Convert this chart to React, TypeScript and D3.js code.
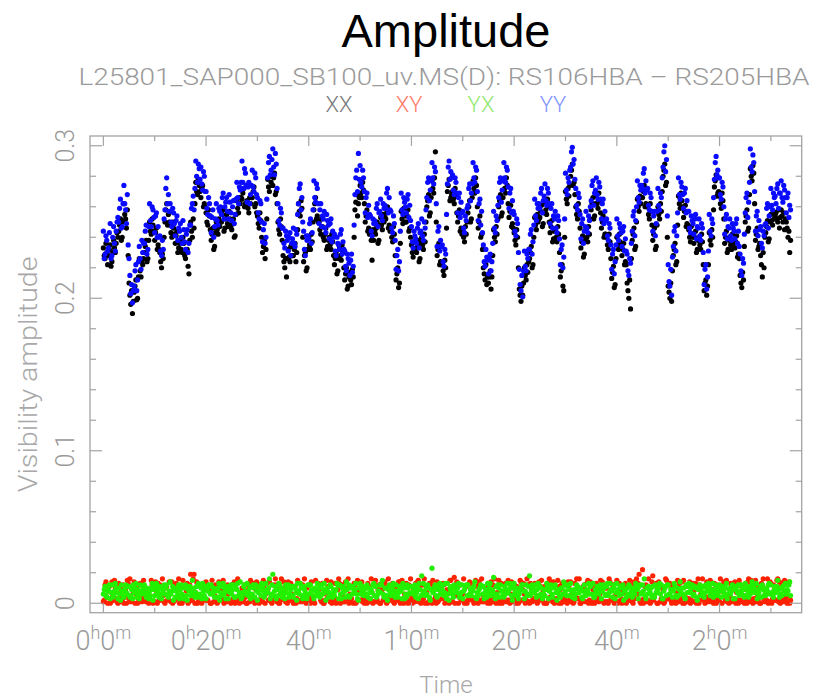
import React from "react";
import * as d3 from "d3";

const W = 822;
const H = 699;

// samples are taken every 10 s (6 per minute) from 0h0m
const SAMPLES_PER_MIN = 6;

const YY = [
.244,.226,.229,.241,.238,.231, .233,.243,.249,.226,.228,.240, .247,.236,.231,.244,.250,.253,
.250,.259,.265,.246,.247,.262, .274,.262,.258,.249,.268,.235, .226,.215,.203,.209,.197,.205,
.208,.218,.222,.205,.212,.224, .234,.226,.219,.238,.230,.236, .236,.244,.248,.229,.232,.247,
.262,.251,.247,.260,.258,.253, .243,.254,.256,.240,.247,.240, .241,.231,.228,.238,.232,.252,
.258,.272,.279,.262,.268,.257, .262,.250,.247,.259,.256,.249, .241,.251,.254,.238,.246,.244,
.249,.240,.236,.251,.245,.237, .232,.242,.245,.230,.236,.248, .248,.259,.262,.267,.258,.272,
.290,.280,.276,.288,.285,.278, .286,.275,.271,.283,.280,.270, .270,.259,.255,.266,.262,.254,
.243,.253,.258,.240,.247,.252, .262,.251,.248,.259,.257,.260, .255,.266,.269,.252,.260,.263,
.266,.257,.252,.268,.263,.256, .251,.260,.264,.249,.255,.265, .276,.266,.262,.273,.271,.276,
.290,.276,.272,.285,.282,.274, .263,.273,.276,.262,.268,.274, .284,.273,.270,.282,.279,.268,
.266,.256,.252,.264,.262,.250, .237,.245,.249,.236,.240,.265, .279,.289,.293,.281,.284,.291,
.298,.286,.281,.295,.288,.272, .262,.251,.248,.259,.256,.246, .246,.236,.233,.244,.241,.238,
.231,.240,.243,.228,.236,.239, .246,.236,.234,.245,.242,.255, .262,.272,.275,.258,.266,.250,
.244,.232,.228,.241,.238,.241, .239,.249,.252,.236,.243,.258, .277,.266,.263,.275,.272,.262,
.249,.258,.262,.247,.254,.252, .257,.246,.243,.255,.251,.248, .239,.249,.252,.237,.244,.240,
.242,.231,.228,.240,.236,.235, .232,.242,.245,.229,.237,.232, .231,.221,.218,.229,.226,.223,
.215,.225,.229,.217,.221,.248, .268,.279,.284,.270,.295,.278, .287,.276,.273,.284,.279,.270,
.256,.266,.269,.253,.261,.255, .254,.244,.241,.252,.249,.251, .249,.259,.262,.247,.256,.257,
.265,.254,.251,.262,.259,.261, .259,.269,.272,.256,.266,.258, .257,.246,.243,.254,.249,.238,
.219,.228,.232,.218,.224,.244, .269,.258,.255,.266,.263,.260, .256,.265,.268,.253,.261,.251,
.247,.237,.233,.244,.241,.239, .236,.246,.249,.233,.243,.244, .252,.241,.238,.250,.246,.258,
.266,.276,.279,.264,.271,.277, .289,.279,.275,.286,.283,.262, .234,.244,.247,.231,.238,.234,
.235,.224,.221,.232,.229,.255, .275,.286,.290,.278,.283,.279, .281,.271,.268,.279,.276,.269,
.256,.266,.269,.253,.263,.256, .257,.246,.243,.254,.251,.259, .261,.272,.275,.264,.269,.275,
.289,.279,.276,.286,.284,.270, .251,.262,.265,.248,.257,.243, .235,.224,.221,.232,.227,.225,
.216,.226,.229,.218,.224,.236, .257,.246,.243,.254,.251,.261, .266,.276,.279,.263,.271,.277,
.289,.279,.276,.286,.284,.273, .259,.269,.272,.256,.264,.257, .255,.244,.241,.252,.249,.230,
.219,.209,.205,.215,.201,.218, .231,.221,.218,.229,.226,.232, .232,.242,.245,.229,.237,.248,
.265,.254,.251,.262,.259,.262, .259,.269,.272,.256,.264,.267, .275,.264,.261,.272,.269,.262,
.249,.259,.262,.246,.254,.252, .257,.246,.243,.254,.251,.239, .222,.232,.235,.220,.227,.252,
.282,.271,.268,.279,.276,.284, .286,.296,.299,.288,.291,.278, .272,.261,.258,.269,.266,.255,
.239,.249,.252,.236,.244,.247, .257,.246,.243,.254,.251,.260, .264,.274,.277,.261,.269,.271,
.279,.268,.265,.276,.273,.265, .252,.262,.265,.249,.257,.251, .252,.241,.238,.249,.246,.235,
.219,.229,.232,.216,.224,.235, .252,.241,.238,.249,.246,.243, .234,.244,.247,.231,.239,.231,
.229,.218,.215,.226,.223,.236, .244,.254,.257,.241,.251,.260, .277,.266,.263,.274,.271,.274,
.272,.282,.285,.269,.277,.271, .272,.261,.258,.269,.266,.257, .244,.254,.257,.241,.249,.257,
.272,.261,.258,.269,.266,.279, .286,.296,.300,.283,.291,.254, .222,.211,.208,.219,.202,.227,
.234,.244,.247,.231,.241,.256, .279,.268,.265,.276,.273,.268, .259,.269,.272,.256,.264,.257,
.257,.246,.243,.254,.251,.249, .242,.252,.255,.239,.247,.246, .252,.241,.238,.249,.246,.230,
.209,.219,.222,.206,.214,.231, .255,.244,.241,.252,.249,.266, .278,.289,.293,.281,.284,.279,
.279,.268,.265,.276,.273,.260, .242,.252,.255,.239,.247,.246, .252,.241,.238,.249,.246,.244,
.239,.249,.252,.236,.244,.234, .229,.218,.215,.226,.223,.242, .256,.266,.269,.253,.263,.276,
.298,.286,.283,.294,.289,.270, .244,.254,.257,.241,.251,.245, .247,.236,.233,.244,.241,.248,
.249,.259,.262,.246,.254,.260, .272,.261,.258,.269,.266,.267, .262,.272,.275,.259,.269,.269,
.277,.266,.263,.274,.271,.266, .256,.266,.269,.253,.261,.258
];

const XX = [
.233,.228,.226,.236,.230,.222, .228,.232,.235,.221,.224,.230, .238,.233,.230,.236,.243,.240,
.244,.248,.252,.238,.240,.250, .262,.255,.252,.246,.258,.228, .210,.202,.196,.205,.190,.198,
.204,.208,.212,.199,.200,.214, .226,.218,.214,.224,.222,.226, .230,.234,.238,.224,.226,.238,
.250,.244,.242,.252,.248,.244, .238,.243,.246,.232,.235,.232, .230,.224,.220,.229,.226,.240,
.250,.258,.262,.248,.255,.250, .248,.243,.240,.250,.246,.242, .236,.241,.244,.230,.233,.236,
.238,.232,.230,.240,.236,.228, .226,.230,.232,.221,.216,.238, .250,.244,.240,.252,.246,.262,
.276,.270,.268,.278,.274,.270, .266,.272,.274,.260,.262,.260, .256,.250,.248,.258,.254,.245,
.238,.242,.246,.232,.234,.243, .250,.245,.242,.252,.247,.250, .250,.255,.258,.244,.246,.252,
.255,.249,.247,.257,.252,.247, .245,.249,.252,.240,.241,.255, .264,.259,.256,.266,.262,.266,
.265,.269,.272,.260,.262,.262, .264,.259,.256,.266,.262,.266, .266,.270,.273,.260,.262,.256,
.254,.249,.246,.256,.251,.240, .230,.234,.238,.226,.232,.252, .278,.273,.270,.280,.276,.280,
.274,.279,.282,.268,.270,.262, .250,.245,.242,.252,.247,.238, .228,.224,.220,.226,.214,.226,
.232,.227,.224,.234,.228,.228, .228,.232,.236,.224,.230,.245, .262,.257,.254,.264,.259,.240,
.224,.228,.230,.218,.220,.232, .240,.235,.232,.242,.237,.250, .258,.262,.266,.252,.254,.250,
.250,.245,.242,.252,.247,.240, .238,.242,.246,.232,.234,.238, .240,.235,.232,.242,.237,.228,
.222,.226,.230,.216,.218,.226, .233,.228,.225,.235,.230,.220, .212,.216,.220,.206,.208,.214,
.217,.212,.209,.219,.214,.240, .258,.263,.268,.254,.262,.266, .274,.269,.266,.276,.271,.262,
.250,.254,.258,.244,.246,.242, .243,.238,.225,.245,.238,.244, .242,.246,.250,.236,.238,.248,
.253,.248,.245,.255,.250,.253, .252,.256,.260,.246,.248,.244, .245,.240,.237,.247,.242,.228,
.212,.216,.220,.207,.210,.236, .257,.252,.249,.259,.254,.250, .250,.254,.258,.244,.246,.240,
.235,.230,.227,.237,.232,.232, .230,.234,.238,.224,.226,.236, .240,.235,.232,.242,.237,.250,
.260,.264,.268,.254,.256,.266, .277,.272,.269,.279,.296,.250, .228,.232,.236,.222,.224,.222,
.223,.218,.215,.225,.220,.246, .270,.274,.278,.264,.266,.268, .270,.265,.262,.272,.267,.256,
.250,.254,.258,.244,.246,.242, .245,.240,.237,.247,.242,.250, .256,.260,.264,.250,.252,.266,
.277,.272,.269,.279,.274,.260, .246,.250,.254,.240,.242,.232, .220,.216,.212,.222,.209,.214,
.210,.214,.218,.206,.214,.228, .245,.240,.237,.247,.242,.252, .260,.264,.268,.254,.256,.266,
.277,.272,.269,.279,.274,.262, .253,.257,.261,.247,.249,.246, .243,.238,.235,.245,.240,.220,
.206,.202,.198,.208,.202,.210, .220,.215,.212,.222,.217,.224, .226,.230,.234,.220,.222,.240,
.253,.248,.245,.255,.250,.252, .253,.257,.261,.247,.249,.256, .263,.258,.255,.265,.260,.250,
.243,.247,.251,.237,.239,.244, .245,.240,.237,.247,.242,.230, .214,.218,.222,.208,.205,.240,
.270,.265,.262,.272,.267,.274, .280,.284,.288,.274,.276,.268, .260,.255,.252,.262,.257,.246,
.233,.237,.241,.227,.229,.238, .245,.240,.237,.247,.242,.252, .258,.262,.266,.252,.254,.262,
.267,.262,.259,.269,.264,.256, .246,.250,.254,.240,.242,.242, .240,.235,.232,.242,.237,.226,
.213,.217,.221,.207,.209,.226, .240,.235,.232,.242,.237,.234, .228,.232,.236,.222,.224,.222,
.210,.205,.200,.212,.193,.226, .238,.242,.246,.232,.234,.250, .265,.260,.257,.267,.262,.266,
.266,.270,.274,.260,.262,.260, .260,.255,.252,.262,.257,.248, .238,.242,.246,.232,.234,.248,
.260,.255,.252,.262,.257,.270, .280,.284,.288,.274,.276,.240, .208,.204,.200,.210,.198,.218,
.228,.232,.236,.222,.224,.248, .267,.262,.259,.269,.264,.260, .253,.257,.261,.247,.249,.248,
.245,.240,.237,.247,.242,.240, .236,.240,.244,.230,.232,.238, .240,.235,.232,.242,.237,.222,
.205,.210,.212,.202,.208,.222, .243,.238,.235,.245,.240,.258, .273,.277,.281,.267,.269,.270,
.267,.262,.259,.269,.264,.252, .236,.240,.244,.230,.232,.238, .240,.235,.232,.242,.237,.236,
.233,.237,.241,.227,.229,.226, .215,.210,.207,.217,.212,.234, .250,.254,.258,.244,.246,.268,
.285,.280,.277,.287,.282,.262, .238,.242,.246,.232,.234,.236, .228,.222,.214,.230,.220,.240,
.243,.247,.251,.237,.239,.250, .255,.251,.248,.257,.252,.254, .256,.252,.250,.258,.246,.253,
.258,.254,.250,.256,.245,.252, .250,.246,.240,.244,.230,.238
];

const XY = [
.001,.002,.012,.014,.004,.000, .008,.011,.000,.001,.014,.005, .002,.015,.010,.003,.001,.000,
.013,.001,.005,.009,.002,.012, .000,.004,.009,.000,.015,.013, .003,.016,.001,.002,.011,.007,
.014,.000,.006,.010,.000,.003, .002,.013,.012,.001,.004,.015, .010,.002,.001,.005,.007,.000,
.003,.009,.015,.012,.000,.001, .001,.014,.008,.000,.013,.002, .012,.003,.002,.016,.005,.001,
.000,.010,.011,.002,.003,.014, .006,.001,.014,.000,.001,.009, .002,.013,.009,.003,.016,.000,
.011,.001,.000,.015,.004,.002, .003,.008,.013,.000,.001,.012, .019,.002,.002,.016,.019,.000,
.007,.014,.000,.001,.012,.003, .001,.000,.010,.013,.003,.002, .014,.002,.002,.009,.008,.000,
.000,.015,.011,.001,.005,.012, .004,.000,.001,.014,.013,.002, .009,.003,.015,.000,.002,.011,
.001,.012,.006,.002,.011,.000, .012,.001,.003,.014,.000,.004, .002,.016,.014,.000,.007,.001,
.010,.002,.001,.012,.004,.000, .000,.009,.012,.001,.015,.003, .005,.013,.002,.000,.009,.014,
.013,.001,.000,.011,.003,.002, .001,.015,.010,.000,.006,.013, .008,.002,.014,.003,.001,.000,
.002,.012,.004,.016,.012,.001, .011,.000,.000,.002,.016,.010, .003,.014,.009,.001,.001,.000,
.014,.002,.002,.013,.006,.003, .000,.011,.011,.000,.003,.015, .007,.001,.013,.002,.001,.012,
.002,.016,.005,.000,.010,.001, .012,.003,.000,.014,.004,.002, .001,.000,.015,.009,.008,.013,
.009,.012,.002,.001,.013,.000, .000,.002,.006,.015,.003,.011, .011,.001,.014,.000,.001,.004,
.004,.013,.000,.002,.009,.016, .013,.000,.002,.012,.005,.001, .001,.014,.010,.003,.016,.000,
.006,.002,.003,.011,.000,.013, .012,.000,.001,.015,.008,.002, .002,.010,.014,.001,.004,.000,
.010,.003,.000,.013,.011,.001, .003,.016,.007,.000,.001,.012, .015,.001,.002,.009,.012,.000,
.000,.013,.009,.002,.005,.014, .011,.000,.001,.016,.003,.002, .004,.012,.013,.001,.000,.010,
.008,.002,.002,.014,.014,.000, .001,.015,.011,.000,.006,.003, .013,.001,.000,.012,.002,.016,
.005,.000,.010,.003,.001,.013, .002,.014,.015,.001,.009,.000, .012,.002,.003,.016,.000,.011,
.007,.000,.001,.013,.013,.002, .000,.015,.011,.002,.004,.000, .014,.001,.002,.010,.008,.012,
.003,.013,.012,.000,.001,.003, .009,.002,.000,.015,.015,.001, .001,.011,.017,.000,.005,.014,
.013,.000,.004,.012,.002,.003, .006,.016,.000,.001,.011,.000, .002,.003,.014,.013,.008,.002,
.010,.000,.001,.015,.003,.011, .000,.014,.012,.002,.016,.001, .005,.001,.002,.010,.009,.000,
.013,.002,.000,.014,.004,.012, .001,.016,.011,.000,.007,.003, .015,.000,.003,.013,.000,.002,
.008,.012,.013,.001,.002,.015, .002,.000,.006,.014,.010,.001, .012,.003,.000,.011,.004,.000,
.001,.015,.014,.002,.009,.013, .006,.000,.002,.016,.012,.001, .000,.013,.010,.001,.003,.002,
.013,.002,.005,.000,.001,.014, .003,.011,.015,.002,.008,.000, .011,.000,.000,.013,.002,.016,
.004,.014,.012,.001,.014,.000, .001,.003,.007,.015,.000,.011, .009,.000,.013,.002,.003,.001,
.002,.012,.000,.014,.011,.002, .014,.001,.006,.000,.001,.013, .005,.016,.010,.003,.016,.000,
.000,.002,.003,.011,.012,.001, .008,.013,.015,.000,.002,.014, .001,.000,.009,.012,.000,.003,
.013,.002,.004,.001,.006,.015, .002,.014,.011,.000,.001,.010, .010,.001,.000,.016,.014,.002,
.003,.012,.012,.000,.005,.001, .015,.000,.001,.013,.008,.003, .000,.011,.007,.002,.013,.000,
.011,.002,.002,.015,.004,.012, .001,.000,.014,.003,.009,.016, .006,.013,.019,.001,.000,.002,
.022,.000,.003,.011,.012,.001, .002,.016,.010,.000,.001,.014, .018,.002,.005,.012,.013,.000,
.000,.014,.011,.001,.003,.002, .009,.000,.001,.016,.015,.003, .004,.012,.013,.002,.000,.011,
.012,.001,.002,.000,.007,.015, .001,.013,.010,.003,.014,.000, .015,.000,.004,.011,.002,.001,
.003,.014,.000,.002,.011,.013, .008,.001,.013,.000,.001,.016, .000,.012,.006,.003,.016,.002,
.011,.000,.002,.014,.004,.001, .002,.015,.014,.001,.009,.000, .013,.003,.000,.012,.005,.002,
.001,.016,.008,.000,.012,.014, .010,.002,.015,.001,.002,.000, .004,.013,.001,.011,.013,.003,
.014,.000,.007,.002,.000,.015, .002,.012,.011,.001,.005,.000, .009,.002,.000,.014,.016,.003,
.001,.015,.013,.000,.003,.012, .015,.001,.004,.002,.010,.000, .000,.013,.012,.016,.002,.001,
.007,.002,.016,.000,.001,.014, .013,.000,.003,.012,.009,.002, .002,.015,.016,.001,.014,.000,
.011,.003,.001,.013,.015,.002, .004,.000,.013,.014,.000,.002
];

const YX = [
.006,.009,.011,.005,.004,.008, .009,.012,.003,.007,.012,.004, .005,.008,.013,.010,.007,.003,
.010,.006,.002,.012,.008,.005, .004,.009,.012,.007,.006,.011, .011,.004,.005,.009,.003,.012,
.007,.010,.013,.004,.009,.006, .003,.012,.008,.006,.011,.009, .012,.007,.004,.010,.006,.003,
.008,.005,.010,.013,.002,.009, .005,.011,.013,.007,.009,.004, .011,.006,.003,.009,.007,.012,
.006,.010,.012,.005,.004,.008, .014,.006,.008,.011,.002,.009, .004,.008,.010,.006,.012,.003,
.009,.012,.006,.004,.003,.010, .012,.005,.002,.009,.008,.011, .005,.009,.015,.007,.010,.004,
.007,.011,.004,.013,.012,.006, .010,.003,.013,.008,.005,.011, .003,.009,.008,.012,.011,.006,
.012,.007,.006,.010,.004,.009, .008,.004,.010,.013,.002,.007, .005,.011,.013,.006,.009,.003,
.011,.008,.003,.010,.007,.012, .006,.009,.012,.004,.004,.010, .009,.013,.005,.007,.014,.003,
.004,.007,.011,.012,.008,.006, .013,.005,.007,.010,.003,.011, .006,.012,.010,.004,.012,.008,
.002,.007,.009,.011,.005,.013, .011,.008,.004,.006,.013,.009, .007,.010,.016,.003,.006,.012,
.019,.005,.008,.011,.003,.009, .005,.013,.012,.007,.010,.004, .009,.006,.003,.012,.007,.010,
.012,.004,.006,.009,.011,.005, .004,.011,.010,.007,.002,.013, .008,.006,.013,.010,.005,.003,
.011,.009,.007,.004,.003,.012, .006,.012,.012,.008,.009,.005, .003,.010,.008,.005,.013,.007,
.010,.004,.005,.012,.006,.009, .013,.007,.002,.010,.008,.004, .007,.012,.011,.006,.004,.009,
.005,.008,.009,.013,.012,.003, .012,.006,.003,.010,.007,.011, .008,.004,.014,.009,.005,.012,
.004,.011,.010,.006,.011,.008, .009,.013,.006,.003,.002,.010, .013,.006,.008,.011,.005,.009,
.006,.010,.012,.004,.010,.007, .003,.009,.007,.012,.013,.005, .011,.004,.005,.008,.008,.012,
.007,.012,.015,.006,.004,.010, .010,.005,.002,.009,.012,.007, .005,.011,.009,.013,.006,.004,
.012,.008,.004,.007,.011,.010, .008,.003,.013,.010,.003,.006, .004,.012,.010,.006,.007,.011,
.011,.007,.006,.009,.012,.004, .007,.010,.003,.013,.009,.005, .018,.006,.013,.008,.005,.011,
.006,.012,.010,.004,.002,.009, .023,.007,.008,.011,.012,.005, .004,.009,.011,.013,.006,.008,
.009,.012,.005,.007,.013,.003, .013,.006,.002,.010,.008,.011, .006,.004,.012,.009,.010,.007,
.010,.013,.004,.006,.007,.012, .003,.008,.009,.011,.012,.005, .012,.005,.006,.009,.005,.010,
.008,.011,.014,.004,.003,.007, .005,.009,.010,.012,.011,.006, .011,.003,.007,.009,.004,.013,
.007,.010,.013,.005,.009,.008, .017,.006,.003,.011,.006,.012, .010,.004,.012,.008,.008,.005,
.004,.011,.006,.009,.013,.007, .009,.013,.011,.005,.002,.010, .013,.007,.005,.010,.007,.003,
.006,.010,.009,.012,.012,.008, .003,.008,.012,.006,.005,.011, .018,.005,.008,.012,.010,.007,
.007,.012,.004,.009,.013,.005, .011,.006,.010,.003,.006,.009, .005,.009,.013,.011,.003,.008,
.009,.012,.006,.004,.011,.010, .012,.007,.002,.009,.008,.005, .004,.010,.010,.006,.014,.012,
.008,.005,.012,.011,.005,.009, .013,.008,.004,.007,.009,.003, .006,.012,.011,.009,.007,.010,
.010,.004,.003,.008,.012,.006, .005,.009,.008,.013,.006,.011, .012,.006,.013,.004,.004,.009,
.007,.011,.009,.006,.010,.012, .003,.008,.012,.010,.006,.005, .011,.013,.005,.007,.013,.009,
.008,.004,.010,.012,.003,.007, .013,.009,.007,.005,.011,.010, .006,.012,.002,.008,.009,.004,
.010,.006,.012,.011,.005,.008, .004,.010,.008,.006,.013,.011, .009,.003,.011,.012,.006,.007,
.012,.008,.016,.005,.003,.010, .006,.011,.009,.007,.010,.004, .011,.005,.004,.012,.007,.009,
.007,.010,.013,.006,.012,.003, .003,.008,.010,.011,.005,.012, .012,.006,.006,.009,.009,.004,
.008,.013,.011,.005,.004,.010, .005,.009,.014,.007,.010,.006, .010,.004,.003,.012,.007,.011,
.013,.007,.008,.010,.012,.005, .006,.011,.010,.004,.002,.009, .009,.012,.005,.008,.011,.006,
.004,.007,.012,.010,.008,.013, .011,.005,.007,.009,.013,.004, .007,.012,.009,.006,.005,.010,
.012,.008,.004,.011,.010,.007, .005,.010,.013,.003,.006,.009, .010,.006,.008,.012,.003,.011,
.003,.009,.011,.007,.012,.005, .008,.012,.006,.010,.009,.004, .013,.005,.010,.008,.004,.011,
.006,.009,.014,.012,.011,.007, .009,.013,.003,.006,.007,.010, .011,.004,.012,.009,.005,.008,
.005,.010,.008,.012,.013,.006, .012,.007,.006,.004,.009,.011, .007,.011,.015,.009,.004,.006,
.010,.005,.011,.008,.012,.013, .006,.009,.008,.012,.014,.005
];

const SERIES_NAMES = ["XX", "XY", "YX", "YY"];
const SERIES_DATA = [XX, XY, YX, YY];
const POINT_COLORS = ["#000000", "#ff2200", "#22f000", "#0a0aff"];
const LEGEND_COLORS = ["#7a7a7a", "#ff7a68", "#92e86e", "#8094ff"];

const X_MAJOR = [0, 20, 40, 60, 80, 100, 120];
const X_LABELS = ["0h0m", "0h20m", "40m", "1h0m", "20m", "40m", "2h0m"];
const X_MINOR = [10, 30, 50, 70, 90, 110, 130];
const Y_MAJOR = [0, 0.1, 0.2, 0.3];
const Y_LABELS = ["0", "0.1", "0.2", "0.3"];
const Y_MINOR = [0.02, 0.04, 0.06, 0.08, 0.12, 0.14, 0.16, 0.18, 0.22, 0.24, 0.26, 0.28];

const TITLE = "Amplitude";
const SUBTITLE = "L25801_SAP000_SB100_uv.MS(D): RS106HBA \u2013 RS205HBA";
const Y_TITLE = "Visibility amplitude";
const X_TITLE = "Time";

const LEFT = 90, RIGHT = 801.7, TOP = 136, BOTTOM = 612.7;
const AXIS = "#a3a3a3";
const TEXT = "#9a9a9a";
const LIGHT_FONT = "Roboto, 'DejaVu Sans', sans-serif";

function splitLabel(s: string) {
  // digits normal, letters (h, m) as superscripts
  const parts: { t: string; sup: boolean }[] = [];
  for (const ch of s) {
    const sup = /[a-z]/.test(ch);
    const last = parts[parts.length - 1];
    if (last && last.sup === sup) last.t += ch;
    else parts.push({ t: ch, sup });
  }
  return parts;
}

export default function App() {
  const x = d3.scaleLinear().domain([-2.6, 136.0]).range([LEFT, RIGHT]);
  const y = d3.scaleLinear().domain([-0.0062, 0.3064]).range([BOTTOM, TOP]);

  const legendX = [339, 409, 481, 553];

  return (
    <svg
      width={W}
      height={H}
      style={{ position: "absolute", left: 0, top: 0, background: "#fff" }}
    >
      <rect x={0} y={0} width={W} height={H} fill="#fff" />
      <text
        x={446}
        y={47}
        textAnchor="middle"
        fontFamily="'Liberation Sans', Arial, sans-serif"
        fontSize={47}
        fill="#000"
      >
        {TITLE}
      </text>
      <text
        x={444}
        y={85}
        textAnchor="middle"
        fontFamily={LIGHT_FONT}
        fontWeight={300}
        fontSize={24}
        fill={TEXT}
        textLength={731}
        lengthAdjust="spacingAndGlyphs"
      >
        {SUBTITLE}
      </text>
      {SERIES_NAMES.map((n, i) => (
        <text
          key={n}
          x={legendX[i]}
          y={112}
          textAnchor="middle"
          fontFamily={LIGHT_FONT}
          fontWeight={300}
          fontSize={22}
          fill={LEGEND_COLORS[i]}
        >
          {n}
        </text>
      ))}

      {/* points */}
      {SERIES_DATA.map((arr, si) => (
        <g key={si} fill={POINT_COLORS[si]}>
          {arr.map((v, i) => (
            <circle key={i} cx={x(i / SAMPLES_PER_MIN)} cy={y(v)} r={2.6} />
          ))}
        </g>
      ))}

      {/* frame */}
      <rect
        x={LEFT}
        y={TOP}
        width={RIGHT - LEFT}
        height={BOTTOM - TOP}
        fill="none"
        stroke={AXIS}
        strokeWidth={1.3}
      />
      <g stroke={AXIS} strokeWidth={1.2}>
        {X_MAJOR.map((t) => (
          <g key={"xm" + t}>
            <line x1={x(t)} x2={x(t)} y1={BOTTOM} y2={BOTTOM - 10} />
            <line x1={x(t)} x2={x(t)} y1={TOP} y2={TOP + 10} />
          </g>
        ))}
        {X_MINOR.map((t) => (
          <g key={"xn" + t}>
            <line x1={x(t)} x2={x(t)} y1={BOTTOM} y2={BOTTOM - 5} />
            <line x1={x(t)} x2={x(t)} y1={TOP} y2={TOP + 5} />
          </g>
        ))}
        {Y_MAJOR.map((v) => (
          <g key={"ym" + v}>
            <line x1={LEFT} x2={LEFT + 12} y1={y(v)} y2={y(v)} />
            <line x1={RIGHT} x2={RIGHT - 12} y1={y(v)} y2={y(v)} />
          </g>
        ))}
        {Y_MINOR.map((v) => (
          <g key={"yn" + v}>
            <line x1={LEFT} x2={LEFT + 6} y1={y(v)} y2={y(v)} />
            <line x1={RIGHT} x2={RIGHT - 6} y1={y(v)} y2={y(v)} />
          </g>
        ))}
      </g>

      {/* x tick labels */}
      {X_MAJOR.map((t, i) => (
        <text
          key={"xl" + t}
          x={x(t)}
          y={650}
          textAnchor="middle"
          fontFamily={LIGHT_FONT}
          fontWeight={300}
          fontSize={27}
          fill={TEXT}
        >
          {splitLabel(X_LABELS[i]).map((p, j) => (
            <tspan
              key={j}
              fontSize={p.sup ? 18 : 27}
              dy={p.sup ? -11 : j > 0 ? 11 : 0}
            >
              {p.t}
            </tspan>
          ))}
        </text>
      ))}

      {/* y tick labels */}
      {Y_MAJOR.map((v, i) => (
        <text
          key={"yl" + v}
          transform={`translate(73.5,${y(v)}) rotate(-90)`}
          textAnchor="middle"
          fontFamily={LIGHT_FONT}
          fontWeight={300}
          fontSize={25}
          fill={TEXT}
        >
          {Y_LABELS[i]}
        </text>
      ))}

      <text
        transform={`translate(37,${(TOP + BOTTOM) / 2}) rotate(-90)`}
        textAnchor="middle"
        fontFamily={LIGHT_FONT}
        fontWeight={300}
        fontSize={25}
        fill="#a8a8a8"
        textLength={236}
        lengthAdjust="spacingAndGlyphs"
      >
        {Y_TITLE}
      </text>
      <text
        x={446}
        y={693}
        textAnchor="middle"
        fontFamily={LIGHT_FONT}
        fontWeight={300}
        fontSize={24}
        fill="#a8a8a8"
      >
        {X_TITLE}
      </text>
    </svg>
  );
}
